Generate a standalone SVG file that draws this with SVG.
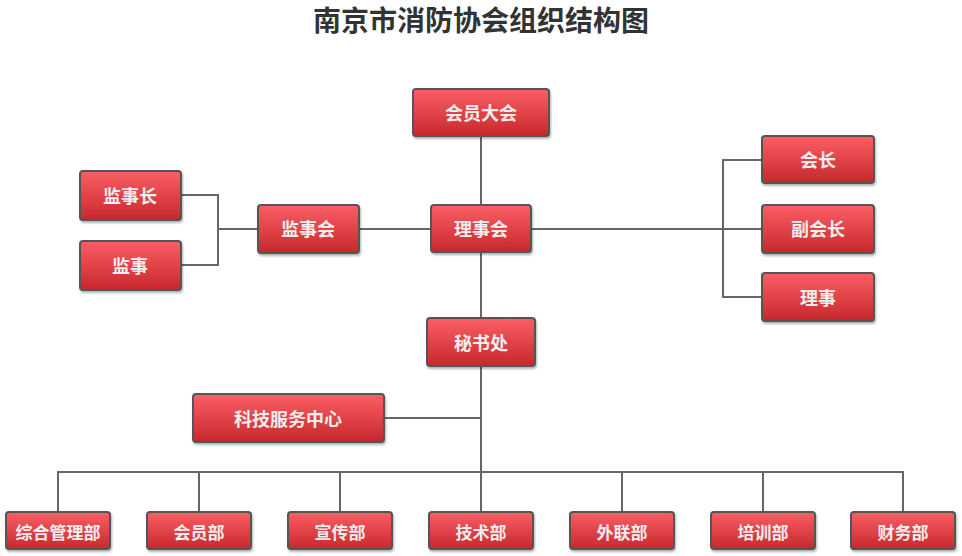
<svg xmlns="http://www.w3.org/2000/svg" width="962" height="556" viewBox="0 0 962 556">
<defs>
<linearGradient id="g" x1="0" y1="0" x2="0" y2="1">
<stop offset="0" stop-color="#fb5f66"/>
<stop offset="1" stop-color="#c6282c"/>
</linearGradient>
<filter id="sh" x="-10%" y="-10%" width="130%" height="140%">
<feDropShadow dx="1" dy="2" stdDeviation="1.2" flood-color="#000" flood-opacity="0.3"/>
</filter>
</defs>
<style>
.box{fill:url(#g);stroke:#555;stroke-width:2;filter:url(#sh)}
.t{font-family:"Noto Sans CJK SC","Noto Sans",sans-serif;font-weight:bold;font-size:18px;fill:#f2eeee;text-anchor:middle;dominant-baseline:central}
.s{font-size:17px}
.ln{fill:none;stroke:#666;stroke-width:2}
.title{font-family:"Noto Sans CJK SC","Noto Sans",sans-serif;font-weight:bold;font-size:28px;fill:#333;text-anchor:middle}
</style>
<rect width="962" height="556" fill="#fff"/>
<text class="title" x="481" y="31">南京市消防协会组织结构图</text>
<g id="connectors">
<path class="ln" d="M481 136 V512"/>
<path class="ln" d="M359 229 H431"/>
<path class="ln" d="M181 195 H218 V265 H181 M218 229 H258"/>
<path class="ln" d="M531 229 H762 M762 160 H723 V297 H762"/>
<path class="ln" d="M384 418 H481"/>
<path class="ln" d="M58 512 V472 H903 V512 M199 472 V512 M340 472 V512 M622 472 V512 M763 472 V512"/>
</g>
<g id="n-hydh"><rect class="box" x="413" y="89" width="136" height="47" rx="3"/><text class="t" x="481" y="112">会员大会</text></g>
<g id="n-lsh"><rect class="box" x="431" y="205" width="100" height="47" rx="3"/><text class="t" x="481" y="228">理事会</text></g>
<g id="n-jsh"><rect class="box" x="258" y="205" width="101" height="48" rx="3"/><text class="t" x="308" y="228">监事会</text></g>
<g id="n-jsz"><rect class="box" x="80" y="171" width="101" height="49" rx="3"/><text class="t" x="130" y="195">监事长</text></g>
<g id="n-js"><rect class="box" x="80" y="241" width="101" height="49" rx="3"/><text class="t" x="130" y="265">监事</text></g>
<g id="n-hz"><rect class="box" x="762" y="136" width="112" height="47" rx="3"/><text class="t" x="818" y="159">会长</text></g>
<g id="n-fhz"><rect class="box" x="762" y="205" width="112" height="48" rx="3"/><text class="t" x="818" y="228">副会长</text></g>
<g id="n-ls"><rect class="box" x="762" y="273" width="112" height="48" rx="3"/><text class="t" x="818" y="297">理事</text></g>
<g id="n-msc"><rect class="box" x="427" y="318" width="108" height="48" rx="3"/><text class="t" x="481" y="342">秘书处</text></g>
<g id="n-kj"><rect class="box" x="193" y="394" width="191" height="48" rx="3"/><text class="t" x="288" y="418">科技服务中心</text></g>
<g id="n-zh"><rect class="box" x="6" y="512" width="104" height="37" rx="3"/><text class="t s" x="58" y="531">综合管理部</text></g>
<g id="n-hyb"><rect class="box" x="147" y="512" width="104" height="37" rx="3"/><text class="t s" x="199" y="531">会员部</text></g>
<g id="n-xc"><rect class="box" x="288" y="512" width="104" height="37" rx="3"/><text class="t s" x="340" y="531">宣传部</text></g>
<g id="n-js2"><rect class="box" x="429" y="512" width="104" height="37" rx="3"/><text class="t s" x="481" y="531">技术部</text></g>
<g id="n-wl"><rect class="box" x="570" y="512" width="104" height="37" rx="3"/><text class="t s" x="622" y="531">外联部</text></g>
<g id="n-px"><rect class="box" x="711" y="512" width="104" height="37" rx="3"/><text class="t s" x="763" y="531">培训部</text></g>
<g id="n-cw"><rect class="box" x="851" y="512" width="104" height="37" rx="3"/><text class="t s" x="903" y="531">财务部</text></g>
</svg>
